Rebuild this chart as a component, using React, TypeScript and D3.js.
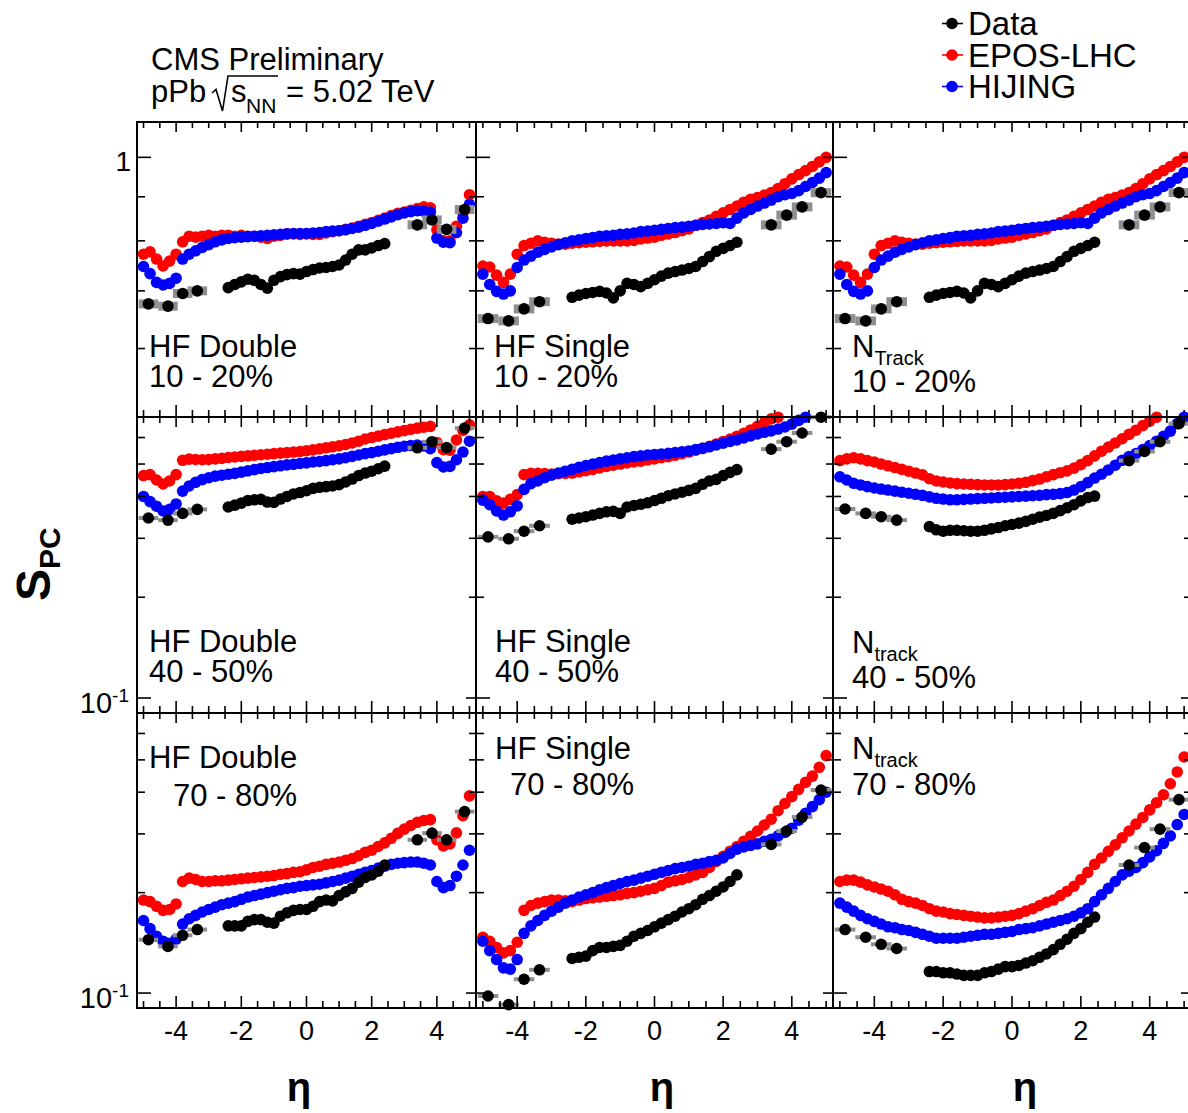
import React from "react";
import * as d3 from "d3";

// eta grids (models, central data, forward data)
const modelEta = [
  -5.0, -4.8, -4.6, -4.4, -4.2, -4.0, -3.8, -3.6, -3.4, -3.2,
  -3.0, -2.8, -2.6, -2.4, -2.2, -2.0, -1.8, -1.6, -1.4, -1.2,
  -1.0, -0.8, -0.6, -0.4, -0.2, 0.0, 0.2, 0.4, 0.6, 0.8,
  1.0, 1.2, 1.4, 1.6, 1.8, 2.0, 2.2, 2.4, 2.6, 2.8,
  3.0, 3.2, 3.4, 3.6, 3.8, 4.0, 4.2, 4.4, 4.6, 4.8,
  5.0,
];
const dataEta = [
  -2.4, -2.2, -2.0, -1.8, -1.6, -1.4, -1.2, -1.0, -0.8, -0.6, -0.4, -0.2, 0.0,
  0.2, 0.4, 0.6, 0.8, 1.0, 1.2, 1.4, 1.6, 1.8, 2.0, 2.2, 2.4,
];
const fwdEta = [-4.85, -4.25, -3.8, -3.35, 3.4, 3.85, 4.3, 4.85];

// HF Double 10-20%
const hfd1020Epos = [
  0.772, 0.777, 0.762, 0.748, 0.758, 0.772, 0.798, 0.81, 0.808, 0.81,
  0.812, 0.81, 0.812, 0.812, 0.81, 0.812, 0.81, 0.81, 0.808, 0.805,
  0.81, 0.812, 0.815, 0.815, 0.814, 0.815, 0.814, 0.814, 0.817, 0.82,
  0.822, 0.825, 0.828, 0.832, 0.836, 0.84, 0.845, 0.85, 0.856, 0.861,
  0.864, 0.868, 0.872, 0.876, 0.874, 0.824, 0.8, 0.8, 0.832, 0.862,
  0.905,
];
const hfd1020Hijing = [
  0.747, 0.733, 0.716, 0.711, 0.714, 0.724, 0.762, 0.772, 0.779, 0.786,
  0.792, 0.798, 0.802, 0.805, 0.807, 0.808, 0.809, 0.81, 0.811, 0.812,
  0.813, 0.814, 0.815, 0.816, 0.816, 0.816, 0.817, 0.818, 0.82, 0.821,
  0.822, 0.824, 0.827, 0.83, 0.834, 0.838, 0.843, 0.848, 0.853, 0.858,
  0.862, 0.865, 0.867, 0.866, 0.864, 0.806, 0.797, 0.796, 0.818, 0.85,
  0.882,
];
const hfd1020Data = [
  0.706, 0.712, 0.717, 0.722, 0.72, 0.712, 0.705, 0.72, 0.727, 0.731, 0.733, 0.732, 0.737,
  0.741, 0.744, 0.745, 0.747, 0.75, 0.76, 0.772, 0.781, 0.781, 0.785, 0.79, 0.794,
];
const hfd1020Fwd = [0.676, 0.672, 0.695, 0.7, 0.835, 0.846, 0.825, 0.87];

// HF Single 10-20% (the N_Track 10-20% pad shows the same points)
const hfs1020Epos = [
  0.748, 0.746, 0.73, 0.716, 0.732, 0.772, 0.79, 0.795, 0.8, 0.797,
  0.795, 0.793, 0.793, 0.795, 0.796, 0.797, 0.798, 0.799, 0.8, 0.8,
  0.8, 0.8, 0.801, 0.804, 0.806, 0.808, 0.812, 0.815, 0.818, 0.822,
  0.826, 0.834, 0.84, 0.846, 0.854, 0.862, 0.87, 0.878, 0.887, 0.894,
  0.898, 0.904, 0.91, 0.92, 0.932, 0.944, 0.955, 0.965, 0.976, 0.988,
  1.0,
];
const hfs1020Hijing = [
  0.732, 0.712, 0.699, 0.694, 0.7, 0.745, 0.76, 0.768, 0.776, 0.782,
  0.787, 0.792, 0.796, 0.8, 0.802, 0.805, 0.807, 0.81, 0.811, 0.812,
  0.814, 0.815, 0.817, 0.82, 0.821, 0.823, 0.825, 0.827, 0.829, 0.83,
  0.832, 0.834, 0.836, 0.837, 0.838, 0.84, 0.838, 0.85, 0.862, 0.87,
  0.878, 0.885, 0.892, 0.9, 0.905, 0.908, 0.915, 0.925, 0.935, 0.946,
  0.96,
];
const hfs1020Data = [
  0.688, 0.692, 0.695, 0.697, 0.699, 0.696, 0.687, 0.7, 0.714, 0.712, 0.708, 0.714, 0.721,
  0.728, 0.734, 0.737, 0.74, 0.743, 0.747, 0.757, 0.767, 0.778, 0.784, 0.79, 0.797,
];
const hfs1020Fwd = [0.65, 0.646, 0.667, 0.68, 0.835, 0.857, 0.876, 0.91];

// HF Double 40-50%
const hfd4050Epos = [
  0.462, 0.465, 0.448, 0.436, 0.445, 0.465, 0.513, 0.517, 0.516, 0.515,
  0.516, 0.518, 0.52, 0.523, 0.525, 0.527, 0.529, 0.531, 0.533, 0.535,
  0.537, 0.539, 0.541, 0.543, 0.545, 0.548, 0.551, 0.555, 0.559, 0.563,
  0.567, 0.572, 0.578, 0.585, 0.594, 0.6, 0.606, 0.612, 0.618, 0.624,
  0.629, 0.635, 0.64, 0.644, 0.648, 0.58, 0.552, 0.55, 0.59, 0.63,
  0.655,
];
const hfd4050Hijing = [
  0.4, 0.386, 0.374, 0.362, 0.366, 0.38, 0.415, 0.43, 0.441, 0.449,
  0.455, 0.46, 0.463, 0.466, 0.469, 0.473, 0.477, 0.481, 0.485, 0.488,
  0.491, 0.494, 0.497, 0.499, 0.502, 0.504, 0.507, 0.509, 0.512, 0.515,
  0.518, 0.522, 0.527, 0.532, 0.537, 0.541, 0.546, 0.551, 0.556, 0.561,
  0.565, 0.568, 0.57, 0.566, 0.556, 0.505, 0.49, 0.492, 0.515, 0.543,
  0.585,
];
const hfd4050Data = [
  0.372, 0.377, 0.382, 0.389, 0.391, 0.392, 0.385, 0.384, 0.393, 0.4, 0.407, 0.411, 0.416,
  0.423, 0.426, 0.428, 0.43, 0.434, 0.442, 0.451, 0.462, 0.47, 0.476, 0.484, 0.493,
];
const hfd4050Fwd = [0.345, 0.34, 0.356, 0.366, 0.559, 0.583, 0.56, 0.64];

// HF Single 40-50%
const hfs4050Epos = [
  0.4, 0.4, 0.388, 0.382, 0.392, 0.405, 0.465, 0.469, 0.469, 0.468,
  0.467, 0.468, 0.469, 0.47, 0.474, 0.478, 0.482, 0.487, 0.492, 0.496,
  0.5, 0.504, 0.507, 0.51, 0.514, 0.518, 0.522, 0.526, 0.531, 0.537,
  0.543, 0.55, 0.557, 0.565, 0.574, 0.584, 0.594, 0.605, 0.618, 0.632,
  0.648, 0.665, 0.682, 0.69, null, null, null, null, null, null,
  null,
];
const hfs4050Hijing = [
  0.39, 0.378, 0.362, 0.352, 0.36, 0.375, 0.42, 0.437, 0.445, 0.455,
  0.463, 0.47, 0.476, 0.482, 0.489, 0.495, 0.5, 0.505, 0.51, 0.514,
  0.518, 0.522, 0.526, 0.529, 0.532, 0.534, 0.536, 0.538, 0.541, 0.544,
  0.547, 0.552, 0.557, 0.563, 0.57, 0.577, 0.584, 0.59, 0.598, 0.607,
  0.615, 0.622, 0.628, 0.636, 0.645, 0.658, 0.675, 0.69, null, null,
  null,
];
const hfs4050Data = [
  0.342, 0.345, 0.348, 0.352, 0.356, 0.36, 0.361, 0.356, 0.372, 0.376, 0.379, 0.383, 0.389,
  0.395, 0.402, 0.407, 0.412, 0.417, 0.423, 0.435, 0.445, 0.45, 0.462, 0.472, 0.481,
];
const hfs4050Fwd = [0.303, 0.299, 0.315, 0.327, 0.554, 0.583, 0.619, 0.69];

// N_track 40-50%
const ntrk4050Epos = [
  0.512, 0.518, 0.522, 0.518, 0.512, 0.507, 0.5, 0.494, 0.488, 0.482,
  0.476, 0.47, 0.464, 0.452, 0.445, 0.442, 0.439, 0.437, 0.436, 0.435,
  0.434, 0.433, 0.433, 0.433, 0.434, 0.436, 0.438, 0.441, 0.446, 0.451,
  0.458, 0.465, 0.471, 0.477, 0.486, 0.498, 0.512, 0.529, 0.546, 0.562,
  0.578, 0.595, 0.613, 0.631, 0.651, 0.672, 0.69, null, null, null,
  null,
];
const ntrk4050Hijing = [
  0.458, 0.448, 0.438, 0.433, 0.428, 0.424, 0.421, 0.418, 0.415, 0.412,
  0.409, 0.406, 0.403, 0.399, 0.395, 0.393, 0.391, 0.391, 0.392, 0.393,
  0.394, 0.395, 0.396, 0.397, 0.398, 0.399, 0.4, 0.401, 0.402, 0.403,
  0.405, 0.406, 0.408, 0.411, 0.418, 0.428, 0.44, 0.454, 0.466, 0.48,
  0.496, 0.513, 0.526, 0.537, 0.552, 0.568, 0.585, 0.605, 0.627, 0.66,
  0.69,
];
const ntrk4050Data = [
  0.325, 0.318, 0.315, 0.317, 0.317, 0.316, 0.315, 0.315, 0.317, 0.32, 0.323, 0.327, 0.33,
  0.333, 0.337, 0.342, 0.347, 0.351, 0.356, 0.363, 0.37, 0.378, 0.388, 0.397, 0.401,
];
const ntrk4050Fwd = [0.367, 0.356, 0.348, 0.34, 0.512, 0.545, 0.583, 0.66];

// HF Double 70-80%
const hfd7080Epos = [
  0.19, 0.188, 0.182, 0.177, 0.178, 0.185, 0.216, 0.221, 0.219, 0.216,
  0.216, 0.217, 0.217, 0.218, 0.219, 0.22, 0.221, 0.222, 0.223, 0.224,
  0.225, 0.227, 0.228, 0.23, 0.231, 0.234, 0.238, 0.24, 0.243, 0.245,
  0.247, 0.25, 0.253, 0.258, 0.264, 0.268, 0.275, 0.282, 0.291, 0.301,
  0.31, 0.318, 0.325, 0.329, 0.331, 0.288, 0.276, 0.28, 0.302, 0.34,
  0.39,
];
const hfd7080Hijing = [
  0.165, 0.156, 0.148, 0.143, 0.141, 0.145, 0.161, 0.167, 0.171, 0.175,
  0.178, 0.181, 0.184, 0.186, 0.188, 0.191, 0.194, 0.196, 0.198, 0.2,
  0.202, 0.204, 0.206, 0.207, 0.209, 0.21, 0.211, 0.212, 0.214, 0.216,
  0.218, 0.221, 0.224, 0.227, 0.23, 0.233, 0.237, 0.24, 0.243, 0.245,
  0.246, 0.247, 0.247, 0.245, 0.242, 0.216, 0.207, 0.21, 0.224, 0.242,
  0.268,
];
const hfd7080Data = [
  0.159, 0.159, 0.159, 0.164, 0.166, 0.166, 0.163, 0.162, 0.17, 0.174, 0.177, 0.178, 0.178,
  0.182, 0.188, 0.19, 0.189, 0.196, 0.201, 0.206, 0.215, 0.222, 0.226, 0.232, 0.242,
];
const hfd7080Fwd = [0.1445, 0.138, 0.149, 0.155, 0.288, 0.3015, 0.288, 0.35];

// HF Single 70-80%
const hfs7080Epos = [
  0.147, 0.143, 0.137, 0.132, 0.134, 0.142, 0.177, 0.183, 0.186, 0.188,
  0.19, 0.19, 0.189, 0.188, 0.19, 0.192, 0.193, 0.194, 0.195, 0.196,
  0.197, 0.199, 0.2, 0.202, 0.204, 0.206, 0.21, 0.215, 0.217, 0.219,
  0.222, 0.226, 0.23, 0.238, 0.248, 0.257, 0.266, 0.275, 0.285, 0.295,
  0.306, 0.319, 0.332, 0.352, 0.37, 0.388, 0.408, 0.428, 0.447, 0.475,
  0.515,
];
const hfs7080Hijing = [
  0.143, 0.134, 0.126, 0.119, 0.118, 0.126, 0.151, 0.159, 0.165, 0.171,
  0.176, 0.181, 0.186, 0.19, 0.194, 0.197, 0.2, 0.204, 0.207, 0.21,
  0.213, 0.216, 0.218, 0.221, 0.224, 0.227, 0.23, 0.233, 0.236, 0.238,
  0.24, 0.243, 0.245, 0.248, 0.25, 0.254, 0.262, 0.27, 0.274, 0.277,
  0.28, 0.285, 0.289, 0.296, 0.303, 0.312, 0.33, 0.346, 0.362, 0.38,
  0.4,
];
const hfs7080Data = [
  0.127, 0.128, 0.129, 0.134, 0.137, 0.137, 0.138, 0.139, 0.143, 0.148, 0.151, 0.154, 0.158,
  0.162, 0.166, 0.17, 0.175, 0.179, 0.184, 0.191, 0.196, 0.202, 0.208, 0.216, 0.226,
];
const hfs7080Fwd = [0.098, 0.0923, 0.11, 0.1174, 0.279, 0.306, 0.337, 0.406];

// N_track 70-80%
const ntrk7080Epos = [
  0.216, 0.218, 0.218, 0.215, 0.211, 0.208, 0.205, 0.202, 0.197, 0.191,
  0.188, 0.186, 0.183, 0.179, 0.176, 0.175, 0.173, 0.172, 0.171, 0.17,
  0.169, 0.168, 0.168, 0.169, 0.17, 0.171, 0.173, 0.176, 0.179, 0.183,
  0.187, 0.19, 0.196, 0.202, 0.209, 0.219, 0.23, 0.243, 0.254, 0.266,
  0.278, 0.292, 0.306, 0.321, 0.336, 0.354, 0.372, 0.393, 0.424, 0.46,
  0.51,
];
const ntrk7080Hijing = [
  0.186, 0.181, 0.176, 0.171, 0.167, 0.164, 0.161, 0.158, 0.157, 0.155,
  0.154, 0.152, 0.15, 0.148, 0.146, 0.146, 0.146, 0.146, 0.147, 0.148,
  0.149, 0.15, 0.15, 0.151, 0.152, 0.153, 0.155, 0.156, 0.157, 0.159,
  0.161, 0.163, 0.165, 0.167, 0.17, 0.174, 0.179, 0.188, 0.197, 0.206,
  0.216, 0.226, 0.232, 0.238, 0.246, 0.256, 0.267, 0.281, 0.296, 0.32,
  0.343,
];
const ntrk7080Data = [
  0.116, 0.116, 0.115, 0.115, 0.114, 0.113, 0.113, 0.113, 0.115, 0.116, 0.118, 0.12, 0.12,
  0.121, 0.123, 0.125, 0.128, 0.131, 0.135, 0.14, 0.145, 0.151, 0.156, 0.163, 0.169,
];
const ntrk7080Fwd = [0.155, 0.147, 0.14, 0.136, 0.242, 0.273, 0.31, 0.38];

const centralities = ["10 - 20%", "40 - 50%", "70 - 80%"];
const legendItems = [
  { label: "Data", color: "#000000" },
  { label: "EPOS-LHC", color: "#ff0000" },
  { label: "HIJING", color: "#0000ff" },
];

const panels = [
  { row: 0, col: 0, name: "HF Double", sub: "", epos: hfd1020Epos, hijing: hfd1020Hijing, data: hfd1020Data, fwd: hfd1020Fwd },
  { row: 0, col: 1, name: "HF Single", sub: "", epos: hfs1020Epos, hijing: hfs1020Hijing, data: hfs1020Data, fwd: hfs1020Fwd },
  { row: 0, col: 2, name: "N", sub: "Track", epos: hfs1020Epos, hijing: hfs1020Hijing, data: hfs1020Data, fwd: hfs1020Fwd },
  { row: 1, col: 0, name: "HF Double", sub: "", epos: hfd4050Epos, hijing: hfd4050Hijing, data: hfd4050Data, fwd: hfd4050Fwd },
  { row: 1, col: 1, name: "HF Single", sub: "", epos: hfs4050Epos, hijing: hfs4050Hijing, data: hfs4050Data, fwd: hfs4050Fwd },
  { row: 1, col: 2, name: "N", sub: "track", epos: ntrk4050Epos, hijing: ntrk4050Hijing, data: ntrk4050Data, fwd: ntrk4050Fwd },
  { row: 2, col: 0, name: "HF Double", sub: "", epos: hfd7080Epos, hijing: hfd7080Hijing, data: hfd7080Data, fwd: hfd7080Fwd },
  { row: 2, col: 1, name: "HF Single", sub: "", epos: hfs7080Epos, hijing: hfs7080Hijing, data: hfs7080Data, fwd: hfs7080Fwd },
  { row: 2, col: 2, name: "N", sub: "track", epos: ntrk7080Epos, hijing: ntrk7080Hijing, data: ntrk7080Data, fwd: ntrk7080Fwd },
];

// layout
const W = 1188, H = 1113;
const FONT = "'Liberation Sans', Arial, Helvetica, sans-serif";
const colX = [[137, 476], [476, 833], [833, 1191]];
const rowY = [[122, 417], [417, 713], [713, 1008]];
const rowDomain = [[0.4997, 1.099], [0.0902, 0.691], [0.0902, 0.691]];
const rowTicks = [[0.6, 0.7, 0.8, 0.9, 1], [0.1, 0.2, 0.3, 0.4, 0.5, 0.6], [0.1, 0.2, 0.3, 0.4, 0.5, 0.6]];
const rowMajor = [1, 0.1, 0.1];
const labelPos = [
  [{ x: 149, y1: 357, x2: 149, y2: 387 }, { x: 494, y1: 357, x2: 494, y2: 387 }, { x: 852, y1: 357, x2: 852, y2: 392 }],
  [{ x: 149, y1: 652, x2: 149, y2: 682 }, { x: 495, y1: 652, x2: 495, y2: 682 }, { x: 852, y1: 653, x2: 852, y2: 688 }],
  [{ x: 149, y1: 768, x2: 173, y2: 806 }, { x: 495, y1: 759, x2: 510, y2: 795 }, { x: 852, y1: 759, x2: 852, y2: 795 }],
];
const etaTitleX = [299, 662, 1025];
const xMajor = [-4, -2, 0, 2, 4];
const xMinor = d3.range(-5, 5.01, 0.5).filter((t) => xMajor.indexOf(t) < 0);
const R = 5.8;
const sysFrac = 0.012;

function Panel({ p }: { p: any }) {
  const [x0, x1] = colX[p.col];
  const [y0, y1] = rowY[p.row];
  const dom = rowDomain[p.row];
  const x = d3.scaleLinear().domain([-5.2, 5.2]).range([x0, x1]);
  const y = d3.scaleLog().domain(dom).range([y1, y0]);
  const inside = (v: number | null) => v != null && v >= dom[0] && v <= dom[1];
  const lp = labelPos[p.row][p.col];

  const ticks: any[] = [];
  xMajor.forEach((t, i) => {
    ticks.push(<line key={"xb" + i} x1={x(t)} x2={x(t)} y1={y1} y2={y1 - 12} />);
    ticks.push(<line key={"xt" + i} x1={x(t)} x2={x(t)} y1={y0} y2={y0 + 10} />);
  });
  xMinor.forEach((t, i) => {
    ticks.push(<line key={"xbm" + i} x1={x(t)} x2={x(t)} y1={y1} y2={y1 - 7} />);
    ticks.push(<line key={"xtm" + i} x1={x(t)} x2={x(t)} y1={y0} y2={y0 + 6} />);
  });
  rowTicks[p.row].forEach((t, i) => {
    const major = t === rowMajor[p.row];
    ticks.push(<line key={"yl" + i} x1={x0} x2={x0 + (major ? 14 : 8)} y1={y(t)} y2={y(t)} />);
    ticks.push(<line key={"yr" + i} x1={x1} x2={x1 - (major ? 10 : 7)} y1={y(t)} y2={y(t)} />);
  });

  return (
    <g>
      {modelEta.map((e, i) =>
        inside(p.epos[i]) ? <circle key={"r" + i} cx={x(e)} cy={y(p.epos[i])} r={R} fill="#ff0000" /> : null
      )}
      {modelEta.map((e, i) =>
        inside(p.hijing[i]) ? <circle key={"b" + i} cx={x(e)} cy={y(p.hijing[i])} r={R} fill="#0000ff" /> : null
      )}
      {fwdEta.map((e, i) => {
        const v = p.fwd[i];
        if (!inside(v)) return null;
        const top = y(v * (1 + sysFrac));
        const bot = y(v * (1 - sysFrac));
        const h = Math.max(4, bot - top);
        return (
          <rect key={"s" + i} x={x(e - 0.3)} width={x(e + 0.3) - x(e - 0.3)}
            y={(top + bot) / 2 - h / 2} height={h} fill="#8f8f8f" />
        );
      })}
      {fwdEta.map((e, i) =>
        inside(p.fwd[i]) ? <circle key={"f" + i} cx={x(e)} cy={y(p.fwd[i])} r={R} fill="#000000" /> : null
      )}
      {dataEta.map((e, i) =>
        inside(p.data[i]) ? <circle key={"d" + i} cx={x(e)} cy={y(p.data[i])} r={R} fill="#000000" /> : null
      )}
      <g stroke="#000" strokeWidth={1.6}>{ticks}</g>
      <rect x={x0} y={y0} width={x1 - x0} height={y1 - y0} fill="none" stroke="#000" strokeWidth={2} />
      <text x={lp.x} y={lp.y1} fontSize={31}>
        {p.name}
        {p.sub ? <tspan dy={8} fontSize={20}>{p.sub}</tspan> : null}
      </text>
      <text x={lp.x2} y={lp.y2} fontSize={31}>{centralities[p.row]}</text>
    </g>
  );
}

export default function App() {
  return (
    <div style={{ position: "absolute", left: 0, top: 0 }}>
      <svg width={W} height={H} style={{ display: "block", background: "#fff" }} fontFamily={FONT}>
        <rect x={0} y={0} width={W} height={H} fill="#fff" />
        {panels.map((p, i) => <Panel key={i} p={p} />)}

        {/* y tick labels */}
        <text x={131} y={157.3 + 14} fontSize={28} textAnchor="end">1</text>
        {[1, 2].map((r) => {
          const yy = d3.scaleLog().domain(rowDomain[r]).range([rowY[r][1], rowY[r][0]]);
          return (
            <text key={"p" + r} x={129} y={yy(0.1) + 15} fontSize={29} textAnchor="end">
              10<tspan dy={-11} fontSize={19}>-1</tspan>
            </text>
          );
        })}

        {/* x tick labels */}
        {colX.map(([a, b], c) => {
          const xx = d3.scaleLinear().domain([-5.2, 5.2]).range([a, b]);
          return xMajor.map((t) => (
            <text key={"xl" + c + t} x={xx(t)} y={1040} fontSize={27} textAnchor="middle">{t}</text>
          ));
        })}

        {/* axis titles */}
        {etaTitleX.map((ex, i) => (
          <text key={"eta" + i} x={ex} y={1101} fontSize={40} fontWeight="bold" textAnchor="middle">η</text>
        ))}
        <text transform="translate(50,601) rotate(-90)" fontSize={48} fontWeight="bold">
          S<tspan dy={10} fontSize={30}>PC</tspan>
        </text>

        {/* header */}
        <text x={151} y={70} fontSize={31}>CMS Preliminary</text>
        <text x={151} y={102} fontSize={31}>pPb</text>
        <path d="M212,93 L216,89.5 L222.5,111 L228,76 L278,76" fill="none" stroke="#000" strokeWidth={1.6} />
        <text x={231} y={102} fontSize={31}>s</text>
        <text x={246} y={113} fontSize={21}>NN</text>
        <text x={286} y={102} fontSize={31}>= 5.02 TeV</text>

        {/* legend */}
        {legendItems.map((it, i) => {
          const base = 35 + i * 31.5;
          return (
            <g key={it.label}>
              <line x1={942} x2={963} y1={base - 11.5} y2={base - 11.5} stroke={it.color} strokeWidth={1.6} />
              <circle cx={952} cy={base - 11.5} r={R} fill={it.color} />
              <text x={968} y={base} fontSize={33}>{it.label}</text>
            </g>
          );
        })}
      </svg>
    </div>
  );
}
